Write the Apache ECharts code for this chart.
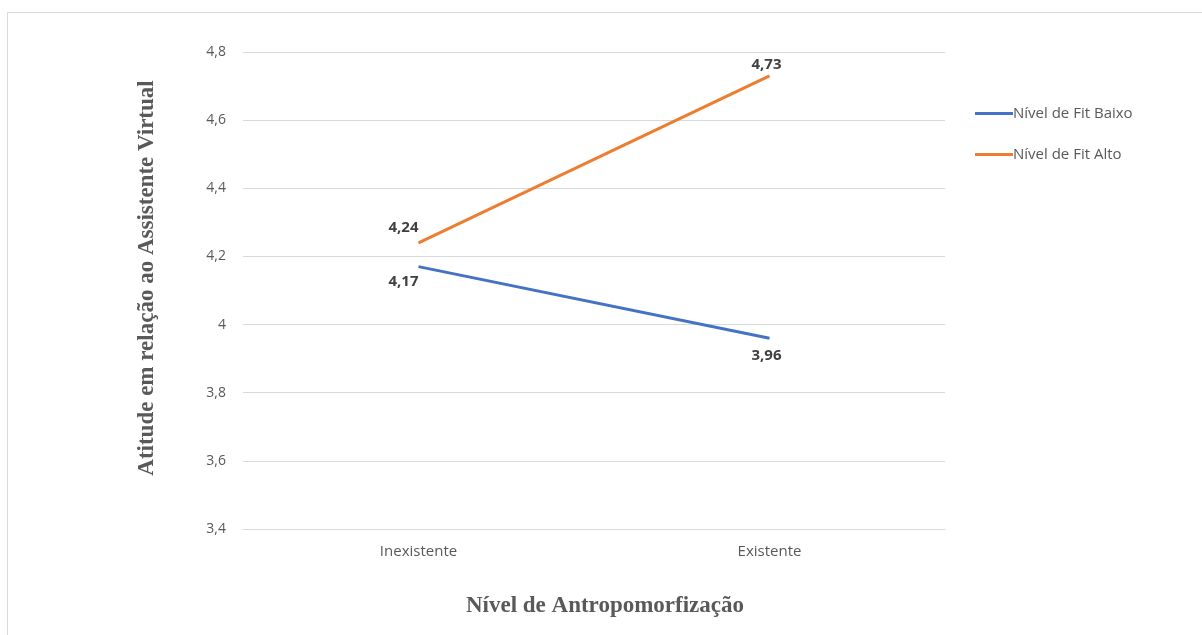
<!DOCTYPE html>
<html>
<head>
<meta charset="utf-8">
<script src="https://cdn.jsdelivr.net/npm/echarts@6/dist/echarts.min.js"></script>
<style>html,body{margin:0;padding:0;background:#fff}#c{width:1202px;height:635px}</style>
</head>
<body>
<div id="c"></div>
<script>
const categories = ['Inexistente', 'Existente'];
const seriesNames = ['Nível de Fit Baixo', 'Nível de Fit Alto'];
const fitBaixo = [4.17, 3.96];
const fitAlto = [4.24, 4.73];
const yTicks = {min: 3.4, max: 4.8, interval: 0.2};
const yTitle = 'Atitude em relação ao Assistente Virtual';
const xTitle = 'Nível de Antropomorfização';

const chart = echarts.init(document.getElementById('c'));
const fmt = v => (Math.round(v * 100) / 100).toString().replace('.', ',');
function mkData(vals, positions, offsets) {
  return vals.map((v, i) => ({
    value: v,
    label: {
      show: true,
      position: positions[i],
      offset: offsets[i],
      distance: 8,
      formatter: p => fmt(p.value),
      fontFamily: 'Open Sans, sans-serif',
      fontWeight: 'bold',
      fontSize: 15,
      color: '#404040'
    }
  }));
}
const titleFont = {fontFamily: 'Liberation Serif, Times New Roman, serif', fontWeight: 'bold', fontSize: 23, fill: '#595959'};
chart.setOption({
  animation: false,
  backgroundColor: '#fff',
  graphic: [
    {type: 'line', shape: {x1: 7.5, y1: 12.5, x2: 1202, y2: 12.5}, style: {stroke: '#d9d9d9', lineWidth: 1}},
    {type: 'line', shape: {x1: 7.5, y1: 12.5, x2: 7.5, y2: 635}, style: {stroke: '#d9d9d9', lineWidth: 1}},
    {type: 'text', x: 147, y: 278, rotation: Math.PI / 2,
      style: Object.assign({text: yTitle, align: 'center', verticalAlign: 'middle'}, titleFont)},
    {type: 'text', x: 605, y: 606,
      style: Object.assign({text: xTitle, align: 'center', verticalAlign: 'middle'}, titleFont)}
  ],
  grid: {left: 243, right: 257, top: 52, bottom: 106, containLabel: false},
  legend: {
    orient: 'vertical',
    left: 970,
    top: 101,
    itemGap: 26,
    itemWidth: 38,
    itemHeight: 3,
    icon: 'rect',
    textStyle: {fontFamily: 'Open Sans, sans-serif', fontSize: 15, color: '#595959', padding: [0, 0, 0, -5]},
    data: seriesNames
  },
  xAxis: {
    type: 'category',
    data: categories,
    boundaryGap: true,
    axisLine: {show: true, lineStyle: {color: '#d9d9d9'}},
    axisTick: {show: false},
    axisLabel: {fontFamily: 'Open Sans, sans-serif', fontSize: 15, color: '#595959', margin: 15}
  },
  yAxis: {
    type: 'value',
    min: yTicks.min,
    max: yTicks.max,
    interval: yTicks.interval,
    axisLine: {show: false},
    axisTick: {show: false},
    splitLine: {lineStyle: {color: '#d9d9d9', width: 1}},
    axisLabel: {fontFamily: 'Open Sans, sans-serif', fontSize: 14, color: '#595959', margin: 17,
      formatter: v => fmt(v)}
  },
  series: [
    {
      name: seriesNames[0], type: 'line', data: mkData(fitBaixo, ['bottom', 'bottom'], [[-15, 0], [-3, 2]]),
      symbol: 'circle', symbolSize: 0, showSymbol: true,
      lineStyle: {width: 3, color: '#4472C4'}, itemStyle: {color: '#4472C4'}
    },
    {
      name: seriesNames[1], type: 'line', data: mkData(fitAlto, ['top', 'top'], [[-15, 0], [-3, 4]]),
      symbol: 'circle', symbolSize: 0, showSymbol: true,
      lineStyle: {width: 3, color: '#ED7D31'}, itemStyle: {color: '#ED7D31'}
    }
  ]
});
</script>
</body>
</html>
